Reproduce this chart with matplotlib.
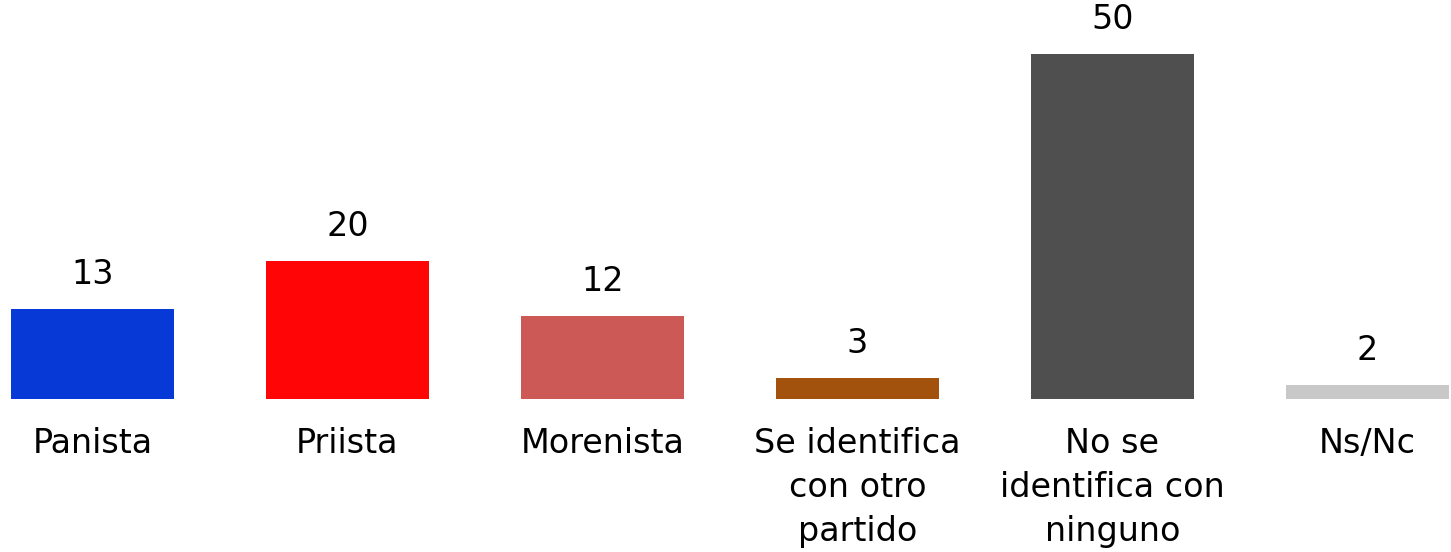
import matplotlib
matplotlib.use("Agg")
import matplotlib.pyplot as plt

# ==========================================
# DATOS
# ==========================================
categorias = ["Panista", "Priista", "Morenista",
              "Se identifica\ncon otro\npartido",
              "No se\nidentifica con\nninguno", "Ns/Nc"]
valores = [13, 20, 12, 3, 50, 2]
colores = ["#0639D6", "#FF0506", "#CD5957", "#A3520E", "#4F4F4F", "#C8C8C8"]

plt.rcParams["font.family"] = ["DejaVu Sans"]

# ==========================================
# GRAFICA
# ==========================================
fig = plt.figure(figsize=(14.51, 5.52), dpi=100)
ax = fig.add_axes([0, 153 / 552, 1, 399 / 552])

x = list(range(len(categorias)))
bars = ax.bar(x, valores, width=0.64, color=colores)
ax.bar_label(bars, labels=[str(v) for v in valores], padding=13, fontsize=24)

ax.set_xlim(-0.3627, 5.3275)
ax.set_ylim(0, 57.83)
ax.set_xticks(x)
ax.set_xticklabels(categorias, fontsize=24, linespacing=1.42)
ax.tick_params(axis="x", length=0, pad=20)
ax.set_yticks([])
for s in ax.spines.values():
    s.set_visible(False)

fig.savefig("out.png", dpi=100)
